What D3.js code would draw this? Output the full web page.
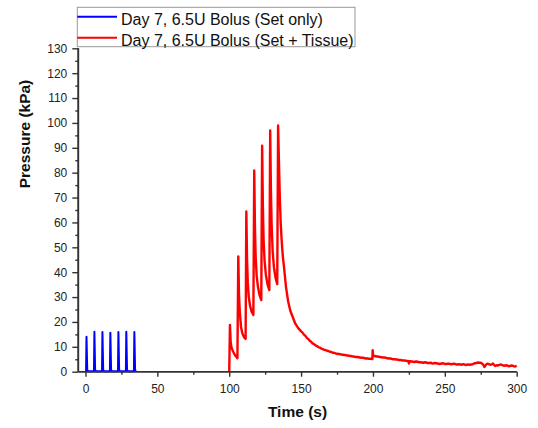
<!DOCTYPE html>
<html>
<head>
<meta charset="utf-8">
<script src="https://cdn.jsdelivr.net/npm/d3@7"></script>
<style>
  html, body { margin: 0; padding: 0; background: #fff; }
  svg { display: block; font-family: "Liberation Sans", Arial, sans-serif; }
</style>
</head>
<body>
<svg id="chart" width="538" height="428"></svg>
<script>
// Series labels and colours
const seriesNames = ["Day 7, 6.5U Bolus (Set only)", "Day 7, 6.5U Bolus (Set + Tissue)"];
const seriesColors = ["#0000ff", "#ff0000"];

// Set only: [time (s), pressure (kPa)]
const setOnly = [
  [0, 0.2], [0.4, 0.2], [0.7, 14.0], [1.2, 0.8], [1.6, 0.2],
  [5.9, 0.2], [6.2, 16.1], [6.7, 0.8], [7.1, 0.2],
  [11.5, 0.2], [11.8, 16.0], [12.3, 0.8], [12.7, 0.2],
  [17.0, 0.2], [17.3, 15.7], [17.8, 0.8], [18.2, 0.2],
  [22.6, 0.2], [22.9, 16.0], [23.4, 0.8], [23.8, 0.2],
  [28.1, 0.2], [28.4, 16.1], [28.9, 0.8], [29.3, 0.2],
  [33.7, 0.2], [34.0, 16.0], [34.5, 0.8], [34.9, 0.2], [35.5, 0.2]
];

// Set + Tissue: [time (s), pressure (kPa)]
const setTissue = [
  [100.0, 0], [100.5, 18.8], [101.0, 12.0], [101.6, 9.8], [102.5, 8.3], [103.5, 7.2], [104.5, 6.3], [105.7, 5.4],
  [106.3, 46.3], [106.8, 31.0], [107.3, 24.5], [108.2, 18.0], [109.2, 15.3], [110.2, 14.0], [111.4, 13.2],
  [111.9, 64.4], [112.4, 45.0], [112.9, 36.0], [113.6, 30.0], [114.5, 26.5], [115.5, 24.2], [116.8, 22.8],
  [117.4, 80.9], [117.9, 58.0], [118.4, 46.0], [119.1, 38.5], [120.0, 34.0], [121.0, 31.0], [122.3, 28.8],
  [122.9, 90.8], [123.4, 67.0], [123.9, 53.0], [124.6, 44.5], [125.5, 39.0], [126.6, 35.2], [127.9, 32.8],
  [128.5, 97.0], [129.0, 73.0], [129.5, 59.0], [130.2, 48.5], [131.1, 42.0], [132.2, 37.8], [133.4, 35.2],
  [134.0, 99.0], [134.6, 84.0], [135.2, 70.0], [135.8, 60.0], [136.4, 53.5], [137.2, 47.0], [138.2, 41.5],
  [139.5, 34.0], [141.0, 28.2], [142.5, 24.5], [144.5, 21.5], [146.0, 19.3], [148.0, 17.5],
  [150, 16.2], [151, 15.7], [152, 14.9], [153, 14.4], [154, 13.6], [155, 13.1], [156, 12.4], [157, 12.0],
  [158, 11.4], [159, 11.1], [160, 10.6], [161, 10.3], [162, 9.9], [163, 9.7], [164, 9.3], [165, 9.1],
  [166, 8.8], [167, 8.7], [168, 8.4], [169, 8.3], [170, 8.0], [171, 7.9], [172, 7.6], [173, 7.6],
  [174, 7.4], [175, 7.2], [176, 7.1], [177, 7.1], [178, 6.9], [179, 6.8], [180, 6.7], [181, 6.7],
  [182, 6.5], [183, 6.5], [184, 6.3], [185, 6.3], [186, 6.1], [187, 6.1], [188, 5.9], [189, 5.9],
  [190, 5.8], [191, 5.7], [192, 5.6], [193, 5.6], [194, 5.5], [195, 5.3], [196, 5.4], [197, 5.2],
  [198, 5.2], [199.6, 5.1], [199.8, 8.6], [200.1, 6.4], [201, 6.3], [202, 6.2], [203, 6.1], [204, 6.0],
  [205, 5.9], [206, 5.8], [207, 5.7], [208, 5.7], [209, 5.6], [210, 5.4], [211, 5.3], [212, 5.3],
  [213, 5.2], [214, 5.0], [215, 5.0], [216, 4.9], [217, 4.9], [218, 4.7], [219, 4.7], [220, 4.6],
  [221, 4.5], [222, 4.5], [223, 4.4], [224.5, 4.3], [225, 3.3], [225.5, 4.2], [226, 4.2], [227, 4.1],
  [228, 4.0], [229, 3.9], [230, 4.1], [231, 4.0], [232, 3.8], [233, 3.8], [234, 3.7], [235, 3.6],
  [236, 3.8], [237, 3.7], [238, 3.5], [239, 3.5], [240, 3.6], [241, 3.4], [242, 3.3], [243, 3.5],
  [244, 3.4], [245, 3.3], [246, 3.1], [247, 3.2], [248, 3.3], [249, 3.4], [250, 3.1], [251, 3.1],
  [252, 3.2], [253, 3.2], [254, 3.0], [255, 3.0], [256, 3.2], [257, 3.1], [258, 2.9], [259, 2.9],
  [260, 3.0], [261, 2.8], [262, 2.9], [263, 3.0], [264, 2.8], [265, 2.7], [266, 2.9], [267, 2.8],
  [268, 2.9], [269, 2.9], [270, 3.2], [271, 3.4], [272, 3.5], [273, 3.7], [274, 3.6], [275, 3.6],
  [276.5, 3.0], [277.5, 1.9], [278.5, 2.7], [279, 3.0], [280, 3.2], [281, 2.9], [282, 2.8], [283, 3.1],
  [283.5, 3.3], [284, 2.9], [285, 2.3], [286, 2.6], [287, 2.5], [288, 2.7], [289, 2.9], [290, 2.6],
  [291, 2.4], [292, 2.5], [293, 2.6], [294, 2.3], [295, 2.2], [296, 2.5], [297, 2.4], [298, 2.2],
  [299, 2.1], [300, 2.3]
];

// Axis ticks
const xMajorTicks = [0, 50, 100, 150, 200, 250, 300];
const xMinorTicks = [25, 75, 125, 175, 225, 275];
const yMajorTicks = [0, 10, 20, 30, 40, 50, 60, 70, 80, 90, 100, 110, 120, 130];
const yMinorTicks = [5, 15, 25, 35, 45, 55, 65, 75, 85, 95, 105, 115, 125];

const svg = d3.select("#chart");
const axisColor = "#333";

const x = d3.scaleLinear().domain([-5, 300]).range([78.3, 516.7]);
const y = d3.scaleLinear().domain([0, 130]).range([371.7, 48.3]);

// Data lines
const line = d3.line().x(d => x(d[0])).y(d => y(d[1]));

svg.append("path")
  .datum(setOnly)
  .attr("d", line)
  .attr("fill", "none")
  .attr("stroke", seriesColors[0])
  .attr("stroke-width", 2)
  .attr("stroke-linejoin", "round");

svg.append("path")
  .datum(setTissue)
  .attr("d", line)
  .attr("fill", "none")
  .attr("stroke", seriesColors[1])
  .attr("stroke-width", 2.4)
  .attr("stroke-linejoin", "round");

// X axis
const xAxis = svg.append("g").attr("transform", `translate(0,${y(0)})`);
xAxis.call(d3.axisBottom(x).tickValues(xMajorTicks).tickSize(5).tickPadding(8).tickFormat(d3.format("d")));
xAxis.append("g").call(d3.axisBottom(x).tickValues(xMinorTicks).tickSize(3).tickFormat(""));

// Y axis
const yAxis = svg.append("g").attr("transform", `translate(${x(-5)},0)`);
yAxis.call(d3.axisLeft(y).tickValues(yMajorTicks).tickSize(6).tickPadding(5).tickFormat(d3.format("d")));
yAxis.append("g").call(d3.axisLeft(y).tickValues(yMinorTicks).tickSize(3).tickFormat(""));

svg.selectAll(".domain").attr("stroke", axisColor).attr("stroke-width", 1.6);
svg.selectAll(".tick line").attr("stroke", axisColor).attr("stroke-width", 1.4);
svg.selectAll(".tick text")
  .attr("fill", "#222")
  .style("font-size", "12px")
  .style("font-family", "'Liberation Sans', Arial, sans-serif");
// Only the axis line itself, no outer end ticks
xAxis.selectAll(".domain").attr("d", `M${x(-5)},0H${x(300)}`);
yAxis.selectAll(".domain").attr("d", `M0,${y(0)}V${y(130)}`);

// Axis titles
svg.append("text")
  .attr("x", (x(-5) + x(300)) / 2)
  .attr("y", 416.5)
  .attr("text-anchor", "middle")
  .attr("font-weight", "bold")
  .attr("font-size", 15.5)
  .attr("fill", "#111")
  .text("Time (s)");

svg.append("text")
  .attr("transform", "translate(30,134) rotate(-90)")
  .attr("text-anchor", "middle")
  .attr("font-weight", "bold")
  .attr("font-size", 15.5)
  .attr("fill", "#111")
  .text("Pressure (kPa)");

// Legend
const legend = svg.append("g");
legend.append("rect")
  .attr("x", 77.3).attr("y", 7.3)
  .attr("width", 277.7).attr("height", 39.4)
  .attr("fill", "#fff")
  .attr("stroke", "#999")
  .attr("stroke-width", 1);

seriesNames.forEach((name, i) => {
  const yy = 16.7 + i * 21;
  legend.append("line")
    .attr("x1", 77.3).attr("x2", 117)
    .attr("y1", yy).attr("y2", yy)
    .attr("stroke", seriesColors[i])
    .attr("stroke-width", 2);
  legend.append("text")
    .attr("x", 121)
    .attr("y", yy + 8.3)
    .attr("font-size", 16)
    .attr("fill", "#111")
    .text(name);
});
</script>
</body>
</html>
